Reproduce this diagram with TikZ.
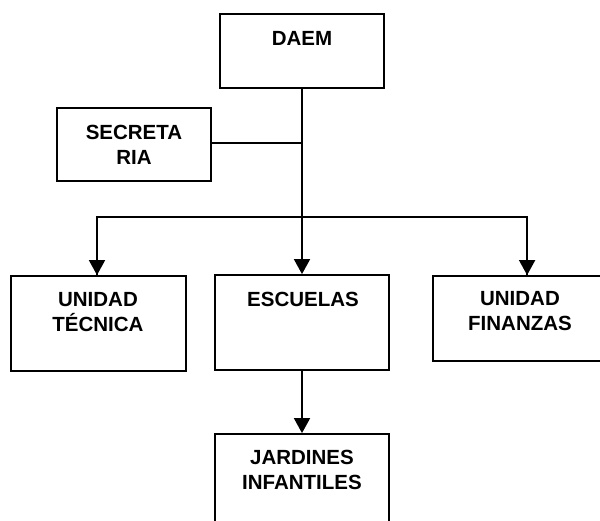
\documentclass[tikz,border=0pt]{standalone}
\usepackage{fontspec}
\setmainfont{Liberation Sans}
\usetikzlibrary{arrows.meta}
\begin{document}
\begin{tikzpicture}[x=1pt,y=-1pt,
  box/.style={draw,line width=1.8pt,inner sep=0pt},
  lbl/.style={font=\bfseries\fontsize{20.5}{25}\selectfont,align=center,inner sep=0pt},
  conn/.style={line width=1.8pt},
  arr/.style={conn,-{Triangle[length=15pt,width=16pt]}}]
\useasboundingbox (0,0) rectangle (600,521);
\clip (0,0) rectangle (600,521);
% boxes
\node[box,minimum width=164pt,minimum height=74pt] (daem) at (302,51) {};
\node[box,minimum width=154pt,minimum height=73pt] (sec) at (134,144.5) {};
\node[box,minimum width=175pt,minimum height=95pt] (tec) at (98.5,323.5) {};
\node[box,minimum width=174pt,minimum height=95pt] (esc) at (302,322.5) {};
\node[box,minimum width=177pt,minimum height=85pt] (fin) at (521.5,318.5) {};
\node[box,minimum width=174pt,minimum height=106pt] (jar) at (302,487) {};
% labels
\node[lbl] (daemt) at (302,38) {DAEM};
\node[lbl] (sect) at (134,145) {SECRETA\\RIA};
\node[lbl] (tect) at (98,312.5) {UNIDAD\\TÉCNICA};
\node[lbl] (esct) at (303,299) {ESCUELAS};
\node[lbl] (fint) at (520,311.5) {UNIDAD\\FINANZAS};
\node[lbl] (jart) at (302,469.5) {JARDINES\\INFANTILES};
% connectors
\coordinate (bus) at (302,217);
\coordinate (sj) at (302,143);
\draw[arr] (daem.south) -- (esc.north);
\draw[conn] (sec.east |- sj) -- (sj);
\draw[conn] (bus) -| ([xshift=-1.5pt]tec.north);
\draw[arr] ([xshift=-1.5pt]tec.north |- bus) -- ([xshift=-1.5pt]tec.north);
\draw[conn] (bus) -| ([xshift=95pt]fin.north west);
\draw[arr] ([xshift=95pt]fin.north west |- bus) -- ([xshift=95pt]fin.north west);
\draw[arr] (esc.south) -- (jar.north);
\end{tikzpicture}
\end{document}
